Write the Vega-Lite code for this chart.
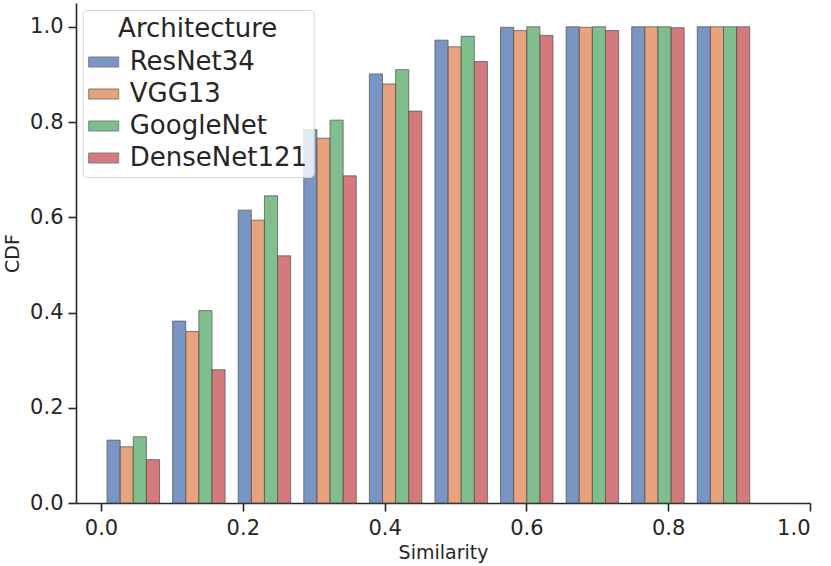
{
  "$schema": "https://vega.github.io/schema/vega-lite/v6.json",
  "autosize": {"type": "none"},
  "padding": {"left": 76, "top": 3, "right": 21, "bottom": 63},
  "width": 734,
  "height": 500,
  "background": "white",
  "config": {
    "view": {"stroke": null},
    "font": "DejaVu Sans",
    "axis": {
      "grid": false,
      "domainColor": "#262626",
      "domainWidth": 1.6,
      "tickColor": "#262626",
      "tickWidth": 1.6,
      "tickSize": 8,
      "labelColor": "#262626",
      "labelFontSize": 21,
      "labelFont": "DejaVu Sans",
      "titleColor": "#262626",
      "titleFontSize": 19,
      "titleFontWeight": "normal",
      "titleFont": "DejaVu Sans"
    }
  },
  "data": {
    "values": [
      {"similarity": 0.1, "Architecture": "ResNet34", "cdf": 0.132},
      {"similarity": 0.1, "Architecture": "VGG13", "cdf": 0.118},
      {"similarity": 0.1, "Architecture": "GoogleNet", "cdf": 0.139},
      {"similarity": 0.1, "Architecture": "DenseNet121", "cdf": 0.091},
      {"similarity": 0.2, "Architecture": "ResNet34", "cdf": 0.382},
      {"similarity": 0.2, "Architecture": "VGG13", "cdf": 0.360},
      {"similarity": 0.2, "Architecture": "GoogleNet", "cdf": 0.404},
      {"similarity": 0.2, "Architecture": "DenseNet121", "cdf": 0.280},
      {"similarity": 0.3, "Architecture": "ResNet34", "cdf": 0.615},
      {"similarity": 0.3, "Architecture": "VGG13", "cdf": 0.594},
      {"similarity": 0.3, "Architecture": "GoogleNet", "cdf": 0.645},
      {"similarity": 0.3, "Architecture": "DenseNet121", "cdf": 0.519},
      {"similarity": 0.4, "Architecture": "ResNet34", "cdf": 0.784},
      {"similarity": 0.4, "Architecture": "VGG13", "cdf": 0.766},
      {"similarity": 0.4, "Architecture": "GoogleNet", "cdf": 0.804},
      {"similarity": 0.4, "Architecture": "DenseNet121", "cdf": 0.687},
      {"similarity": 0.5, "Architecture": "ResNet34", "cdf": 0.901},
      {"similarity": 0.5, "Architecture": "VGG13", "cdf": 0.880},
      {"similarity": 0.5, "Architecture": "GoogleNet", "cdf": 0.910},
      {"similarity": 0.5, "Architecture": "DenseNet121", "cdf": 0.823},
      {"similarity": 0.6, "Architecture": "ResNet34", "cdf": 0.972},
      {"similarity": 0.6, "Architecture": "VGG13", "cdf": 0.958},
      {"similarity": 0.6, "Architecture": "GoogleNet", "cdf": 0.980},
      {"similarity": 0.6, "Architecture": "DenseNet121", "cdf": 0.927},
      {"similarity": 0.7, "Architecture": "ResNet34", "cdf": 0.999},
      {"similarity": 0.7, "Architecture": "VGG13", "cdf": 0.992},
      {"similarity": 0.7, "Architecture": "GoogleNet", "cdf": 1.0},
      {"similarity": 0.7, "Architecture": "DenseNet121", "cdf": 0.982},
      {"similarity": 0.8, "Architecture": "ResNet34", "cdf": 1.0},
      {"similarity": 0.8, "Architecture": "VGG13", "cdf": 0.999},
      {"similarity": 0.8, "Architecture": "GoogleNet", "cdf": 1.0},
      {"similarity": 0.8, "Architecture": "DenseNet121", "cdf": 0.992},
      {"similarity": 0.9, "Architecture": "ResNet34", "cdf": 1.0},
      {"similarity": 0.9, "Architecture": "VGG13", "cdf": 1.0},
      {"similarity": 0.9, "Architecture": "GoogleNet", "cdf": 1.0},
      {"similarity": 0.9, "Architecture": "DenseNet121", "cdf": 0.998},
      {"similarity": 1.0, "Architecture": "ResNet34", "cdf": 1.0},
      {"similarity": 1.0, "Architecture": "VGG13", "cdf": 1.0},
      {"similarity": 1.0, "Architecture": "GoogleNet", "cdf": 1.0},
      {"similarity": 1.0, "Architecture": "DenseNet121", "cdf": 1.0}
    ]
  },
  "layer": [
    {
      "mark": {"type": "bar", "fillOpacity": 0.75, "stroke": "#555555", "strokeWidth": 1, "strokeOpacity": 0.75},
      "encoding": {
        "x": {
          "field": "similarity",
          "type": "ordinal",
          "scale": {"paddingInner": 0.2, "paddingOuter": 0.696, "align": 0.34},
          "axis": null
        },
        "xOffset": {
          "field": "Architecture",
          "type": "nominal",
          "scale": {"domain": ["ResNet34", "VGG13", "GoogleNet", "DenseNet121"], "paddingInner": 0, "paddingOuter": 0}
        },
        "y": {
          "field": "cdf",
          "type": "quantitative",
          "scale": {"domain": [0, 1.05], "nice": false, "zero": true},
          "axis": {
            "title": "CDF",
            "values": [0, 0.2, 0.4, 0.6, 0.8, 1.0],
            "format": ".1f",
            "labelPadding": 5,
            "titlePadding": 7
          }
        },
        "color": {
          "field": "Architecture",
          "type": "nominal",
          "scale": {"domain": ["ResNet34", "VGG13", "GoogleNet", "DenseNet121"], "range": ["#4C72B0", "#DD8452", "#55A868", "#C44E52"]},
          "legend": {
            "title": "Architecture",
            "orient": "none",
            "legendX": 6.7,
            "legendY": 7,
            "padding": 6,
            "cornerRadius": 4,
            "strokeColor": "#d6d6d6",
            "fillColor": "rgba(255,255,255,0.8)",
            "titleFontSize": 26,
            "titleFontWeight": "normal",
            "titleColor": "#262626",
            "titleAnchor": "middle",
            "titlePadding": 7,
            "titleLimit": 500,
            "labelFontSize": 26,
            "labelColor": "#262626",
            "labelOffset": 13,
            "labelLimit": 500,
            "symbolType": "M-1.5,-0.5H1.5V0.5H-1.5Z",
            "symbolSize": 400,
            "symbolOffset": 2,
            "symbolOpacity": 0.75,
            "symbolStrokeColor": "#555555",
            "symbolStrokeWidth": 1,
            "rowPadding": 6
          }
        }
      }
    },
    {
      "mark": {"type": "point", "opacity": 0},
      "encoding": {
        "x": {
          "datum": 0,
          "type": "quantitative",
          "scale": {"domain": [-0.0353, 1.0], "nice": false, "zero": false},
          "axis": {
            "title": "Similarity",
            "values": [0, 0.2, 0.4, 0.6, 0.8, 1.0],
            "format": ".1f",
            "labelPadding": 6,
            "titlePadding": 5
          }
        }
      }
    }
  ],
  "resolve": {"scale": {"x": "independent"}, "axis": {"x": "independent"}}
}
